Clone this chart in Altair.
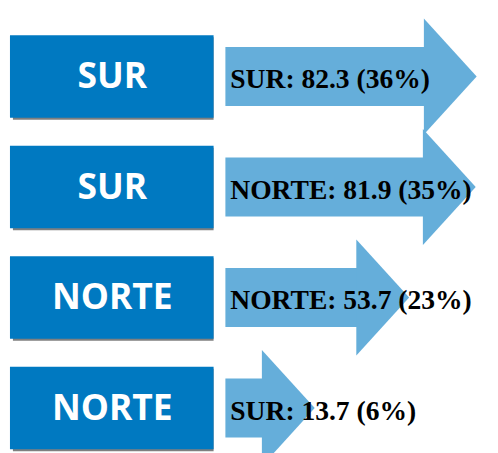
import altair as alt
import pandas as pd

# Data
box_labels = ["SUR", "SUR", "NORTE", "NORTE"]
arrow_regions = ["SUR", "NORTE", "NORTE", "SUR"]
values = [82.3, 81.9, 53.7, 13.7]
pcts = [36, 35, 23, 6]
rows = [0, 1, 2, 3]

df = pd.DataFrame({
    "row": rows,
    "box": box_labels,
    "region": arrow_regions,
    "value": values,
    "pct": pcts,
})
df["label"] = [f"{r}: {v} ({p}%)" for r, v, p in zip(arrow_regions, values, pcts)]

BOX_BLUE = "#0079C1"
ARROW_BLUE = "#65AEDA"

y = alt.Y("row:Q", axis=None, scale=alt.Scale(domain=[0, 3], range=[66, 403]))
x = alt.X("value:Q", axis=None, scale=alt.Scale(domain=[0, 100], range=[227, 467]))

base = alt.Chart(df)

shadow = base.mark_rule(strokeWidth=84, color="#7F7F7F", strokeCap="butt", xOffset=3, yOffset=2).encode(
    x=alt.value(2), x2=alt.value(209), y=y
)
box = base.mark_rule(strokeWidth=84, color=BOX_BLUE, strokeCap="butt").encode(
    x=alt.value(2), x2=alt.value(209), y=y
)
box_text = base.mark_text(
    font="Open Sans", fontWeight="bold", fontSize=36, color="white",
    align="center", baseline="middle", dy=1
).encode(x=alt.value(106), y=y, text="box:N")

shaft = base.mark_rule(strokeWidth=60, color=ARROW_BLUE, strokeCap="butt").encode(
    x=x, x2=alt.value(221), y=y
)
head = base.mark_point(
    shape="M-0.03,-1L0.88,0L-0.03,1Z", size=118 * 118, filled=True, opacity=1,
    color=ARROW_BLUE, strokeWidth=0
).encode(x=x, y=y)

arrow_text = base.mark_text(
    font="Liberation Serif", fontWeight="bold", fontSize=28, color="black",
    align="left", baseline="middle", dy=4
).encode(x=alt.value(226), y=y, text="label:N")

chart = alt.layer(shadow, box, box_text, shaft, head, arrow_text).properties(
    width=490, height=445, autosize=alt.AutoSizeParams(type="none"), padding=0
).configure_view(stroke=None)

chart.save("out.html", embed_options={"renderer": "svg", "actions": False})
